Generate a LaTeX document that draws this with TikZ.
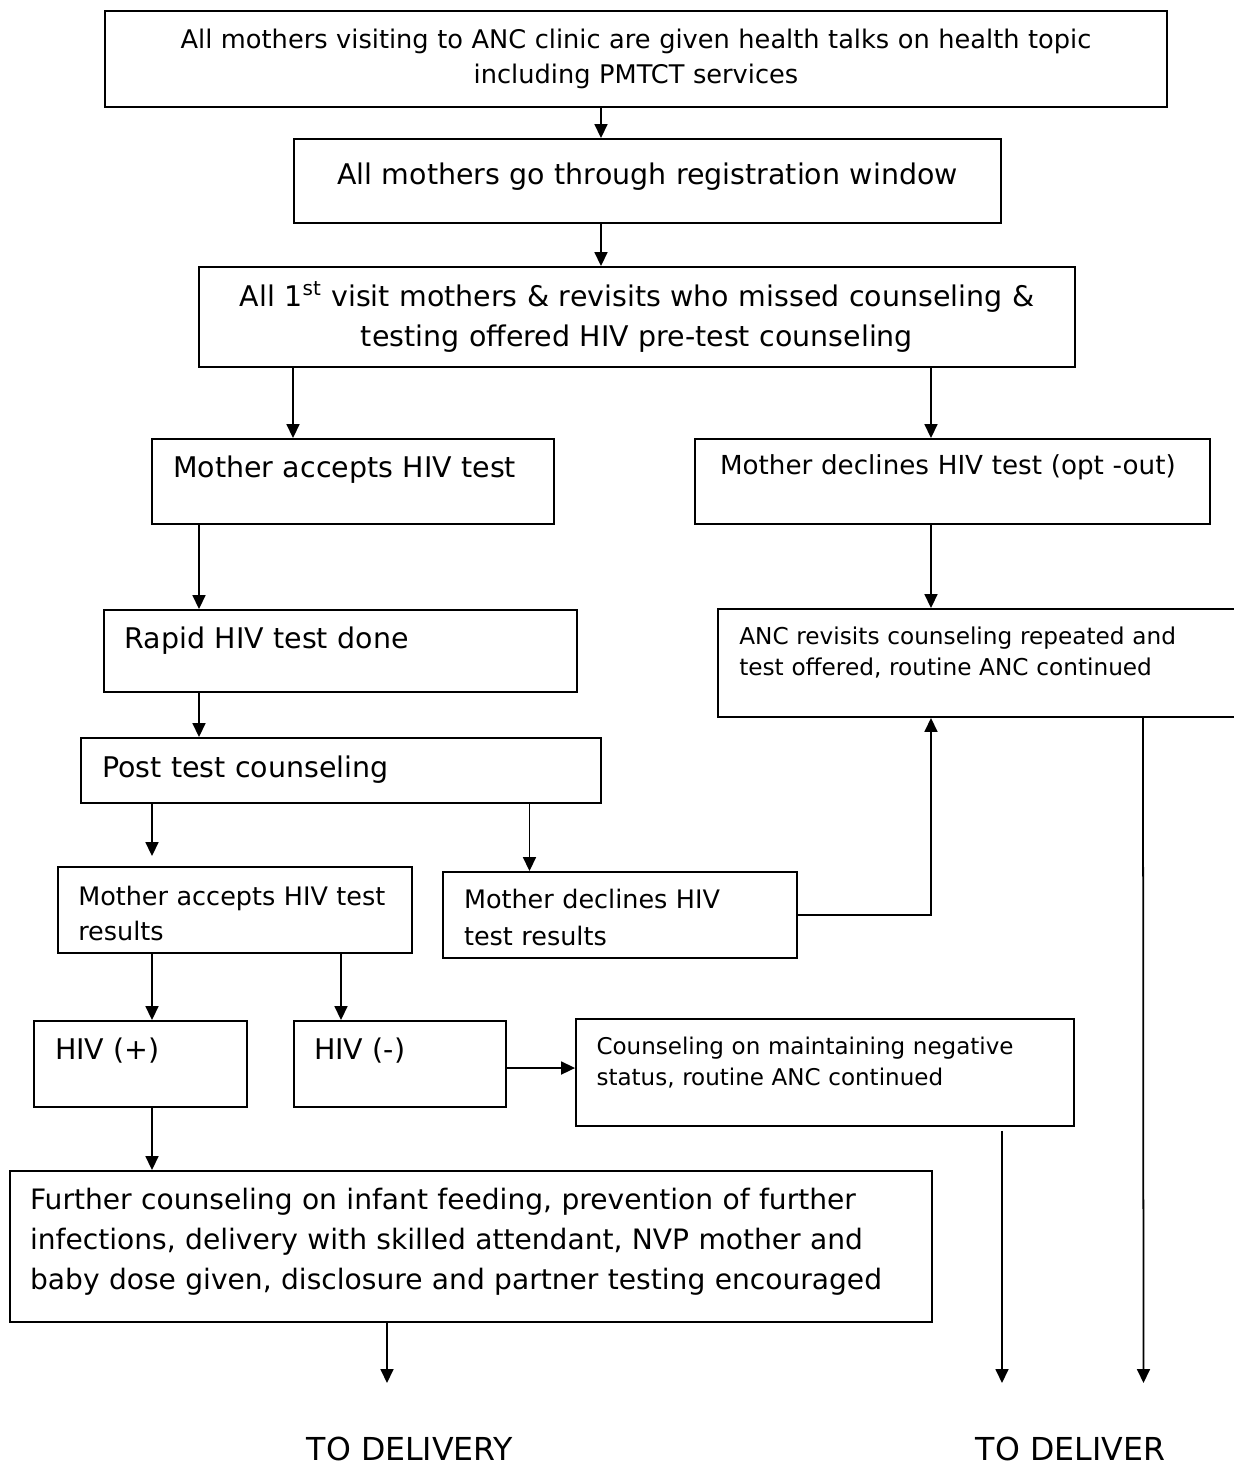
\documentclass[tikz,border=0pt]{standalone}
\usepackage{fontspec}
\setmainfont{DejaVu Sans}
\usetikzlibrary{arrows.meta}

\newcommand{\fsBig}{\fontsize{16.2}{22.7}\selectfont}
\newcommand{\fsMid}{\fontsize{14.5}{19.8}\selectfont}
\newcommand{\fsSmall}{\fontsize{13.2}{17.6}\selectfont}

\begin{document}
\begin{tikzpicture}[
    x=0.02cm, y=-0.02cm,
    flowBox/.style={draw=black,line width=1.1pt,rectangle,inner ysep=0pt,inner xsep=0.42cm,align=left},
    flowArr/.style={-{Triangle[length=0.28cm,width=0.26cm]},line width=1pt},
    flowEnd/.style={anchor=base,inner sep=0pt,font=\fontsize{18}{22}\selectfont},
]
\useasboundingbox (0,0) rectangle (1234,1465);

\node[flowBox,align=center,inner xsep=0.4cm,text width=20.44cm,minimum height=1.92cm,font=\fontsize{14.6}{19.8}\selectfont] (talk) at (636,59)
    {All mothers visiting to ANC clinic are given health talks on health topic\\including PMTCT services};
\node[flowBox,align=center,inner xsep=0.4cm,text width=13.34cm,minimum height=1.68cm,font=\fsBig,text depth=8.4pt] (reg) at (647.5,181)
    {All mothers go through registration window};
\node[flowBox,align=center,inner xsep=0.4cm,text width=16.72cm,minimum height=2cm,font=\fsBig] (pretest) at (637,317)
    {All 1\textsuperscript{st} visit mothers \& revisits who missed counseling \&\\testing offered HIV pre-test counseling};

\node[flowBox,text width=7.2cm,minimum height=1.7cm,font=\fsBig,text depth=16.9pt] (accept) at (353,481.5)
    {Mother accepts HIV test};
\node[flowBox,inner xsep=0.5cm,text width=9.3cm,minimum height=1.7cm,font=\fontsize{14.9}{20}\selectfont,text depth=19pt] (decline) at (952.5,481.5)
    {Mother declines HIV test (opt -out)};

\node[flowBox,inner xsep=0.41cm,text width=8.64cm,minimum height=1.64cm,font=\fsBig,text depth=15.2pt] (rapid) at (340.5,651)
    {Rapid HIV test done};
\node[flowBox,text width=9.59cm,minimum height=2.16cm,font=\fsSmall,text depth=30.9pt] (anc) at (979,663)
    {ANC revisits counseling repeated and\\test offered, routine ANC continued};
\node[flowBox,text width=9.56cm,minimum height=1.3cm,font=\fsBig,text depth=4.4pt] (post) at (341,770.5)
    {Post test counseling};

\node[flowBox,inner xsep=0.41cm,text width=6.27cm,minimum height=1.72cm,font=\fsMid,text depth=16.2pt] (accRes) at (235,910)
    {Mother accepts HIV test\\results};
\node[flowBox,text width=6.24cm,minimum height=1.72cm,font=\fontsize{14.5}{21}\selectfont,text depth=18.5pt] (declRes) at (620,915)
    {Mother declines HIV\\test results};

\node[flowBox,text width=3.42cm,minimum height=1.72cm,font=\fsBig,text depth=17.5pt] (hivPos) at (140.5,1064) {HIV (+)};
\node[flowBox,inner xsep=0.4cm,text width=3.44cm,minimum height=1.72cm,font=\fsBig,text depth=17.5pt] (hivNeg) at (400,1064) {HIV (-)};
\node[flowBox,inner xsep=0.41cm,text width=9.14cm,minimum height=2.14cm,font=\fontsize{13.1}{17.6}\selectfont,text depth=30.3pt] (neg) at (825,1072.5)
    {Counseling on maintaining negative\\status, routine ANC continued};

\node[flowBox,inner xsep=0.41cm,text width=17.64cm,minimum height=3.02cm,font=\fontsize{16}{22.7}\selectfont,text depth=54.4pt] (further) at (471,1246.5)
    {Further counseling on infant feeding, prevention of further\\infections, delivery with skilled attendant, NVP mother and\\baby dose given, disclosure and partner testing encouraged};

\node[flowEnd] (delivL) at (410,1460) {TO DELIVERY};
\node[flowEnd] (delivR) at (1070.5,1460) {TO DELIVER};
\coordinate (endL) at (387,1383);
\coordinate (endM) at (1002,1383);
\coordinate (endR) at (1143.5,1383);

\draw[flowArr] (601,0 |- talk.south) -- (601,0 |- reg.north);
\draw[flowArr] (601,0 |- reg.south) -- (601,0 |- pretest.north);
\draw[flowArr] (293,0 |- pretest.south) -- (293,0 |- accept.north);
\draw[flowArr] (931,0 |- pretest.south) -- (931,0 |- decline.north);
\draw[flowArr] (199,0 |- accept.south) -- (199,0 |- rapid.north);
\draw[flowArr] (931,0 |- decline.south) -- (931,0 |- anc.north);
\draw[flowArr] (199,0 |- rapid.south) -- (199,0 |- post.north);
\draw[flowArr,shorten >=0.2cm] (152,0 |- post.south) -- (152,0 |- accRes.north);
\draw[flowArr] (529.5,0 |- post.south) -- (529.5,0 |- declRes.north);
% back to ANC revisits
\draw[flowArr] (declRes.east) -| (931,0 |- anc.south);
\draw[flowArr] (152,0 |- accRes.south) -- (152,0 |- hivPos.north);
\draw[flowArr] (341,0 |- accRes.south) -- (341,0 |- hivNeg.north);
\draw[flowArr] (hivNeg.east |- 0,1068) -- (neg.west |- 0,1068);
\draw[flowArr] (152,0 |- hivPos.south) -- (152,0 |- further.north);
% to delivery
\draw[flowArr] (387,0 |- further.south) -- (endL);
\draw[flowArr,shorten <=0.08cm] (1002,0 |- neg.south) -- (endM);
\draw[flowArr] (1143,0 |- anc.south) -- (endR);
\end{tikzpicture}
\end{document}
